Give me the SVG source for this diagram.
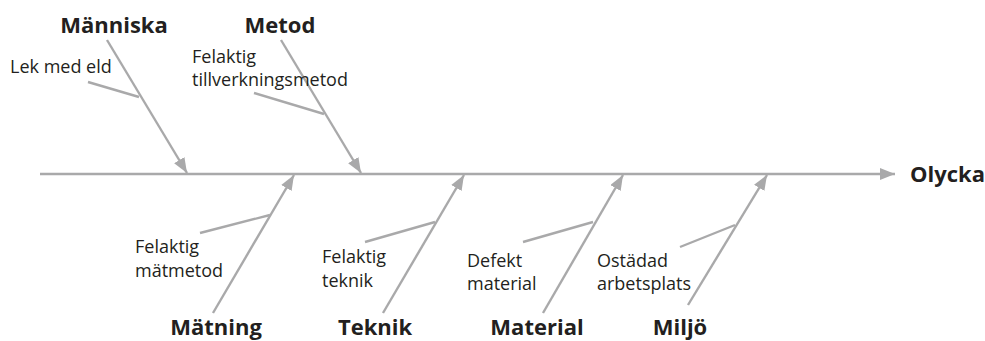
<svg xmlns="http://www.w3.org/2000/svg" width="985" height="341" viewBox="0 0 985 341">
  <style>
    .bone { stroke: #a9a9aa; stroke-width: 2.4; fill: none; }
    .sub { stroke: #a9a9aa; stroke-width: 2.4; fill: none; }
    .cat { font-family: "Open Sans", "Noto Sans", sans-serif; font-weight: bold; font-size: 22px; fill: #231f20; }
    .cause { font-family: "Open Sans", "Noto Sans", sans-serif; font-size: 18px; fill: #231f20; }
  </style>
  <defs>
    <marker id="head" markerUnits="userSpaceOnUse" markerWidth="18" markerHeight="14" refX="15" refY="6" orient="auto">
      <path d="M0,0 L15,6 L0,12 Z" fill="#a9a9aa"/>
    </marker>
  </defs>
  <rect width="985" height="341" fill="#ffffff"/>

  <g id="connectors">
    <!-- spine -->
    <line class="bone" x1="40" y1="174" x2="895" y2="174" marker-end="url(#head)"/>
    <!-- upper bones -->
    <line class="bone" x1="107" y1="40" x2="187" y2="173" marker-end="url(#head)"/>
    <line class="bone" x1="281" y1="40" x2="361" y2="173" marker-end="url(#head)"/>
    <!-- lower bones -->
    <line class="bone" x1="213" y1="313" x2="294" y2="175" marker-end="url(#head)"/>
    <line class="bone" x1="383" y1="313" x2="464" y2="175" marker-end="url(#head)"/>
    <line class="bone" x1="543" y1="313" x2="623" y2="175" marker-end="url(#head)"/>
    <line class="bone" x1="688" y1="305" x2="767" y2="175" marker-end="url(#head)"/>
    <!-- cause ticks -->
    <line class="sub" x1="88" y1="82" x2="139" y2="97"/>
    <line class="sub" x1="254" y1="93" x2="324" y2="114"/>
    <line class="sub" x1="200" y1="233" x2="270" y2="215"/>
    <line class="sub" x1="365" y1="242" x2="435" y2="222"/>
    <line class="sub" x1="523" y1="242" x2="593" y2="222"/>
    <line class="sub" x1="680" y1="247" x2="735" y2="225"/>
  </g>

  <g id="olycka">
    <text class="cat" x="910" y="182">Olycka</text>
  </g>

  <g id="manniska">
    <text class="cat" x="114" y="33" text-anchor="middle">Människa</text>
    <text class="cause" x="10" y="73">Lek med eld</text>
  </g>

  <g id="metod">
    <text class="cat" x="280" y="33" text-anchor="middle">Metod</text>
    <text class="cause" x="192" y="63">Felaktig</text>
    <text class="cause" x="192" y="86">tillverkningsmetod</text>
  </g>

  <g id="matning">
    <text class="cat" x="216" y="335" text-anchor="middle">Mätning</text>
    <text class="cause" x="135" y="253">Felaktig</text>
    <text class="cause" x="135" y="277">mätmetod</text>
  </g>

  <g id="teknik">
    <text class="cat" x="375" y="335" text-anchor="middle">Teknik</text>
    <text class="cause" x="322" y="263">Felaktig</text>
    <text class="cause" x="322" y="287">teknik</text>
  </g>

  <g id="material">
    <text class="cat" x="537" y="335" text-anchor="middle">Material</text>
    <text class="cause" x="467" y="267">Defekt</text>
    <text class="cause" x="467" y="290">material</text>
  </g>

  <g id="miljo">
    <text class="cat" x="680" y="335" text-anchor="middle">Miljö</text>
    <text class="cause" x="597" y="267">Ostädad</text>
    <text class="cause" x="597" y="290">arbetsplats</text>
  </g>
</svg>
